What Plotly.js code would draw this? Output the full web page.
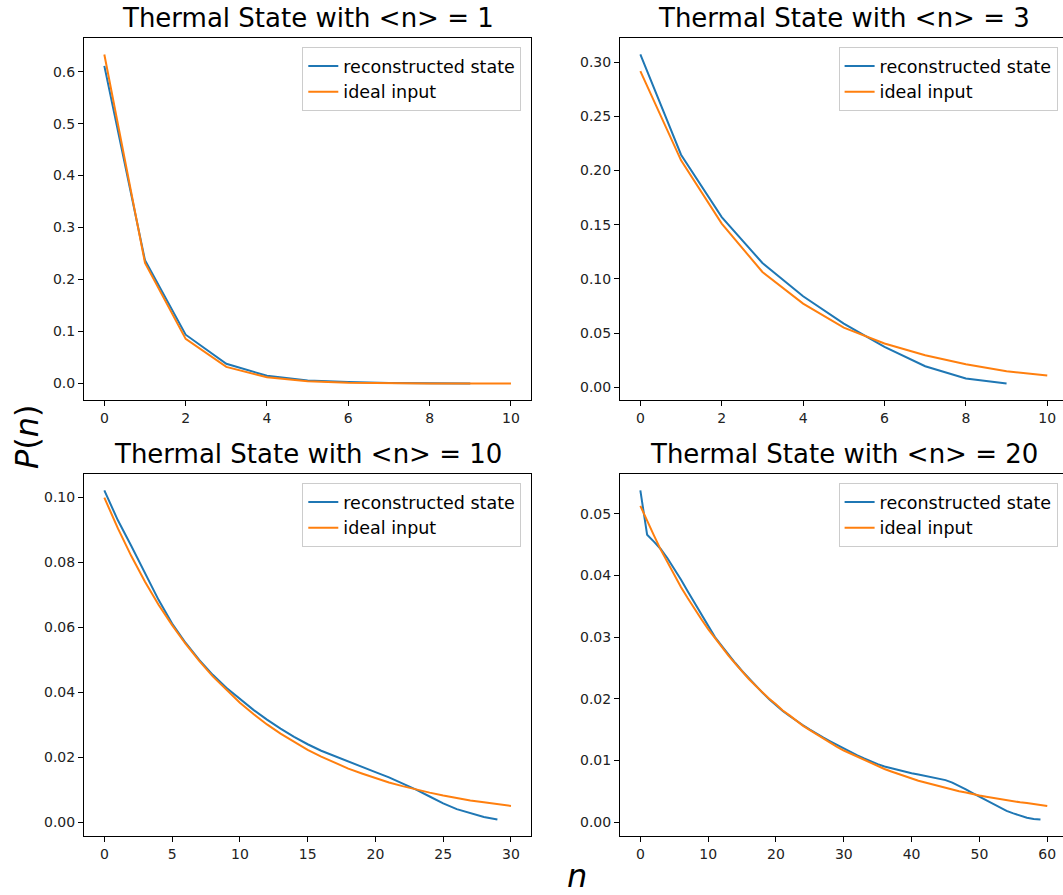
<!DOCTYPE html>
<html>
<head>
<meta charset="utf-8">
<script src="https://cdn.plot.ly/plotly-3.0.1.min.js"></script>
<style>
html, body { margin: 0; padding: 0; overflow: hidden; background: #fff; }
#chart { width: 1068px; height: 895px; }
</style>
</head>
<body>
<div id="chart"></div>
<script>
// ---- Data ----
const titles = ["Thermal State with <n> = 1", "Thermal State with <n> = 3",
                "Thermal State with <n> = 10", "Thermal State with <n> = 20"];
const seriesNames = ["reconstructed state", "ideal input"];

const n1Recon = [0,1,2,3,4,5,6,7,8,9];
const p1Recon = [0.611, 0.237, 0.094, 0.038, 0.015, 0.006, 0.003, 0.001, 0.0006, 0.0003];
const n1Ideal = [0,1,2,3,4,5,6,7,8,9,10];
const p1Ideal = [0.633, 0.232, 0.086, 0.032, 0.012, 0.0045, 0.0016, 0.0006, 0.0002, 0.0001, 0.00003];

const n2Recon = [0,1,2,3,4,5,6,7,8,9];
const p2Recon = [0.307, 0.2145, 0.157, 0.1146, 0.0839, 0.0587, 0.0372, 0.0194, 0.0080, 0.0034];
const n2Ideal = [0,1,2,3,4,5,6,7,8,9,10];
const p2Ideal = [0.2916, 0.2093, 0.151, 0.1063, 0.0772, 0.055, 0.0403, 0.0295, 0.0212, 0.0147, 0.0108];

const n3Recon = [0,1,2,3,4,5,6,7,8,9,10,11,12,13,14,15,16,17,18,19,20,21,22,23,24,25,26,27,28,29];
const p3Recon = [0.1022, 0.0930, 0.0850, 0.0765, 0.0685, 0.0612, 0.0552, 0.0500, 0.0454, 0.0414,
                 0.0380, 0.0346, 0.0316, 0.0288, 0.0263, 0.0240, 0.0220, 0.0203, 0.0186, 0.0170,
                 0.0154, 0.0138, 0.0120, 0.0100, 0.0079, 0.0058, 0.0040, 0.0027, 0.0016, 0.0008];
const n3Ideal = [0,1,2,3,4,5,6,7,8,9,10,11,12,13,14,15,16,17,18,19,20,21,22,23,24,25,26,27,28,29,30];
const p3Ideal = [0.1000, 0.0905, 0.0819, 0.0741, 0.0670, 0.0607, 0.0549, 0.0497, 0.0449, 0.0407,
                 0.0368, 0.0333, 0.0301, 0.0273, 0.0247, 0.0223, 0.0202, 0.0183, 0.0165, 0.0150,
                 0.0135, 0.0122, 0.0111, 0.0100, 0.0091, 0.0082, 0.0074, 0.0067, 0.0061, 0.0055, 0.0050];

const n4Recon = [0,1,2,3,4,5,6,7,8,9,10,11,12,13,14,15,16,17,18,19,20,21,22,23,24,25,26,27,28,29,
                 30,31,32,33,34,35,36,37,38,39,40,41,42,43,44,45,46,47,48,49,50,51,52,53,54,55,56,57,58,59];
const p4Recon = [0.0538, 0.0466, 0.0455, 0.0443, 0.0428, 0.0411, 0.0393, 0.0374, 0.0355, 0.0336,
                 0.0318, 0.0300, 0.0286, 0.0271, 0.0258, 0.0245, 0.0233, 0.0221, 0.0210, 0.0199,
                 0.0189, 0.0180, 0.0172, 0.0164, 0.0157, 0.0150, 0.0143, 0.0137, 0.0131, 0.0125,
                 0.0120, 0.0114, 0.0108, 0.0103, 0.0098, 0.0094, 0.0090, 0.0087, 0.0084, 0.0081,
                 0.0079, 0.0077, 0.0075, 0.0073, 0.0071, 0.0068, 0.0064, 0.0059, 0.0053, 0.0047,
                 0.0041, 0.0035, 0.0029, 0.0023, 0.0018, 0.0014, 0.0010, 0.0007, 0.0005, 0.0004];
const n4Ideal = [0,1,2,3,4,5,6,7,8,9,10,11,12,13,14,15,16,17,18,19,20,21,22,23,24,25,26,27,28,29,
                 30,31,32,33,34,35,36,37,38,39,40,41,42,43,44,45,46,47,48,49,50,51,52,53,54,55,56,57,58,59,60];
const p4Ideal = [0.0513, 0.0488, 0.0465, 0.0442, 0.0421, 0.0401, 0.0381, 0.0363, 0.0345, 0.0329,
                 0.0313, 0.0298, 0.0283, 0.0270, 0.0257, 0.0244, 0.0232, 0.0221, 0.0210, 0.0200,
                 0.0191, 0.0181, 0.0173, 0.0164, 0.0156, 0.0149, 0.0142, 0.0135, 0.0128, 0.0122,
                 0.0116, 0.0111, 0.0105, 0.0100, 0.0095, 0.0091, 0.0086, 0.0082, 0.0078, 0.0074,
                 0.0071, 0.0067, 0.0064, 0.0061, 0.0058, 0.0055, 0.0053, 0.0050, 0.0048, 0.0045,
                 0.0043, 0.0041, 0.0039, 0.0037, 0.0035, 0.0034, 0.0032, 0.0031, 0.0029, 0.0028, 0.0026];

const xTicks1 = [0,2,4,6,8,10];
const yTicks1 = [0.0,0.1,0.2,0.3,0.4,0.5,0.6];
const xTicks2 = [0,2,4,6,8,10];
const yTicks2 = [0.00,0.05,0.10,0.15,0.20,0.25,0.30];
const xTicks3 = [0,5,10,15,20,25,30];
const yTicks3 = [0.00,0.02,0.04,0.06,0.08,0.10];
const xTicks4 = [0,10,20,30,40,50,60];
const yTicks4 = [0.00,0.01,0.02,0.03,0.04,0.05];

// ---- Styling / layout ----
const W = 1068, H = 895;
const BLUE = "#1f77b4", ORANGE = "#ff7f0e";
const FONT = "DejaVu Sans, sans-serif";

const colX = [[84/W, 531.3/W], [620/W, 1067.6/W]];
const rowY = [[(H-400)/H, (H-38)/H], [(H-836)/H, (H-474)/H]];

const panels = [
  {nr: n1Recon, pr: p1Recon, ni: n1Ideal, pi: p1Ideal, xt: xTicks1, yt: yTicks1, dec: 1, c: 0, r: 0},
  {nr: n2Recon, pr: p2Recon, ni: n2Ideal, pi: p2Ideal, xt: xTicks2, yt: yTicks2, dec: 2, c: 1, r: 0},
  {nr: n3Recon, pr: p3Recon, ni: n3Ideal, pi: p3Ideal, xt: xTicks3, yt: yTicks3, dec: 2, c: 0, r: 1},
  {nr: n4Recon, pr: p4Recon, ni: n4Ideal, pi: p4Ideal, xt: xTicks4, yt: yTicks4, dec: 2, c: 1, r: 1},
];

function autoRange(arrs) {
  let lo = Infinity, hi = -Infinity;
  arrs.forEach(a => a.forEach(v => { if (v < lo) lo = v; if (v > hi) hi = v; }));
  const m = (hi - lo) * 0.05;
  return [lo - m, hi + m];
}

const traces = [];
const layout = {
  width: W, height: H,
  margin: {l: 0, r: 0, t: 0, b: 0},
  paper_bgcolor: "#ffffff",
  plot_bgcolor: "#ffffff",
  font: {family: FONT, color: "#000000", size: 14},
  showlegend: true,
  annotations: [],
};

panels.forEach((p, i) => {
  const k = i + 1;
  const xa = k === 1 ? "x" : "x" + k;
  const ya = k === 1 ? "y" : "y" + k;
  const lg = k === 1 ? "legend" : "legend" + k;
  traces.push({x: p.nr, y: p.pr, type: "scatter", mode: "lines", name: seriesNames[0],
               legendgroup: "r" + k,
               xaxis: xa, yaxis: ya, legend: lg, line: {color: BLUE, width: 2}});
  traces.push({x: p.ni, y: p.pi, type: "scatter", mode: "lines", name: seriesNames[1],
               legendgroup: "i" + k,
               xaxis: xa, yaxis: ya, legend: lg, line: {color: ORANGE, width: 2}});

  const xr = autoRange([p.nr, p.ni]);
  const yr = autoRange([p.pr, p.pi]);
  const axCommon = {
    showgrid: false, zeroline: false, showline: true, mirror: true,
    linecolor: "#000000", linewidth: 1, ticks: "outside", ticklen: 5, tickwidth: 1,
    tickcolor: "#000000", tickfont: {family: FONT, size: 14, color: "#222"}
  };
  layout["xaxis" + (k === 1 ? "" : k)] = Object.assign({}, axCommon, {
    domain: colX[p.c], range: xr, anchor: ya, tickmode: "array", tickvals: p.xt,
    ticktext: p.xt.map(String)
  });
  layout["yaxis" + (k === 1 ? "" : k)] = Object.assign({}, axCommon, {
    domain: rowY[p.r], range: yr, anchor: xa, tickmode: "array", tickvals: p.yt,
    ticktext: p.yt.map(v => v.toFixed(p.dec))
  });
  layout[lg] = {
    x: colX[p.c][1] - 10/W, xanchor: "right",
    y: rowY[p.r][1] - 9/H, yanchor: "top",
    bgcolor: "rgba(255,255,255,0.8)", bordercolor: "#cccccc", borderwidth: 1,
    font: {family: FONT, size: 17.5, color: "#000"},
    tracegroupgap: 4, traceorder: "normal"
  };
  layout.annotations.push({
    text: titles[i].replace(/</g, "&lt;").replace(/>/g, "&gt;"),
    xref: "paper", yref: "paper",
    x: (colX[p.c][0] + colX[p.c][1]) / 2, xanchor: "center",
    y: rowY[p.r][1] + 3/H, yanchor: "bottom",
    showarrow: false, font: {family: FONT, size: 26, color: "#000"}
  });
});

layout.annotations.push({
  text: "<i>P</i>(<i>n</i>)", xref: "paper", yref: "paper",
  x: 27/W, y: (H-437)/H, xanchor: "center", yanchor: "middle", textangle: -90,
  showarrow: false, font: {family: FONT, size: 32, color: "#000"}
});
layout.annotations.push({
  text: "<i>n</i>", xref: "paper", yref: "paper",
  x: 577/W, y: (H-876)/H, xanchor: "center", yanchor: "middle",
  showarrow: false, font: {family: FONT, size: 32, color: "#000"}
});

Plotly.newPlot("chart", traces, layout, {displayModeBar: false, staticPlot: true});
</script>
</body>
</html>
